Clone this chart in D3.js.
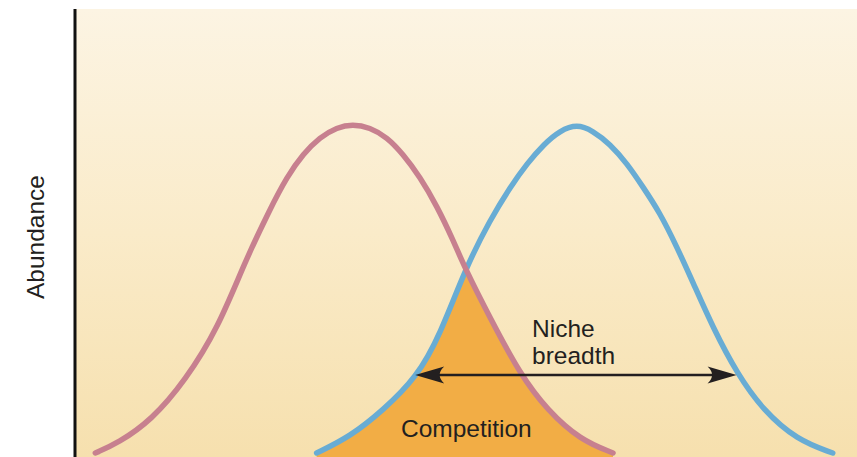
<!DOCTYPE html>
<html>
<head>
<meta charset="utf-8">
<script src="https://cdn.jsdelivr.net/npm/d3@7"></script>
<style>
  html, body { margin: 0; padding: 0; background: #ffffff; }
  svg { display: block; }
  text { font-family: "Liberation Sans", Arial, Helvetica, sans-serif; fill: #231f20; }
</style>
</head>
<body>
<svg id="chart" width="857" height="457"></svg>
<script>
// Resource gradient position (0-100) and relative abundance (peak = 1)
const speciesAX = [2.6, 5.5, 9.8, 14.1, 18.3, 21.7, 24.9, 27.1, 29.2, 31.3, 33.5, 35.5, 37.7, 39.9, 41.9, 44.1, 46.3, 48.3, 49.9, 53.1, 56.9, 60.4, 64.6, 68.8];
const speciesAY = [0.00, 0.03, 0.10, 0.22, 0.38, 0.58, 0.74, 0.84, 0.91, 0.96, 0.99, 1.00, 0.99, 0.96, 0.91, 0.84, 0.75, 0.65, 0.56, 0.41, 0.24, 0.13, 0.04, 0.00];

const speciesBX = [30.9, 35.2, 39.4, 43.7, 46.7, 49.9, 53.1, 55.7, 57.8, 60.0, 62.0, 64.2, 66.2, 68.4, 70.6, 72.6, 74.8, 76.9, 79.0, 81.6, 84.7, 88.0, 92.3, 96.9];
const speciesBY = [0.00, 0.05, 0.13, 0.23, 0.36, 0.56, 0.71, 0.81, 0.88, 0.94, 0.98, 1.00, 0.98, 0.94, 0.88, 0.81, 0.73, 0.63, 0.52, 0.38, 0.24, 0.13, 0.04, 0.00];

// Niche breadth annotation (gradient positions and abundance level)
const nicheBreadthX = [43.5, 84.6];
const nicheBreadthLevel = 0.237;

const labels = { yAxis: "Abundance", niche: ["Niche", "breadth"], competition: "Competition" };

const W = 857, H = 457;
const svg = d3.select("#chart");

const x = d3.scaleLinear().domain([0, 100]).range([75, 857]);
const y = d3.scaleLinear().domain([0, 1.35]).range([453, 9]);

const defs = svg.append("defs");
const grad = defs.append("linearGradient").attr("id", "bg").attr("x1", 0).attr("y1", 0).attr("x2", 0).attr("y2", 1);
grad.append("stop").attr("offset", "0%").attr("stop-color", "#fcf4e3");
grad.append("stop").attr("offset", "50%").attr("stop-color", "#faebc9");
grad.append("stop").attr("offset", "100%").attr("stop-color", "#f6e0ae");

// background panel
svg.append("rect")
  .attr("x", x(0)).attr("y", y(1.35))
  .attr("width", x(100) - x(0)).attr("height", H - y(1.35))
  .attr("fill", "url(#bg)");

const ptsA = speciesAX.map((v, i) => [v, speciesAY[i]]);
const ptsB = speciesBX.map((v, i) => [v, speciesBY[i]]);

const curve = d3.curveBasis;
const line = d3.line().x(d => x(d[0])).y(d => y(d[1])).curve(curve);
const area = d3.area().x(d => x(d[0])).y0(H).y1(d => y(d[1])).curve(curve);

// competition overlap: area under A clipped by area under B
defs.append("clipPath").attr("id", "clipB")
  .append("path").attr("d", area(ptsB));
svg.append("path")
  .attr("d", area(ptsA))
  .attr("clip-path", "url(#clipB)")
  .attr("fill", "#f2ad45");

// curves
svg.append("path").attr("d", line(ptsB))
  .attr("fill", "none").attr("stroke", "#68acd4").attr("stroke-width", 5.5)
  .attr("stroke-linecap", "round");
svg.append("path").attr("d", line(ptsA))
  .attr("fill", "none").attr("stroke", "#c7808f").attr("stroke-width", 5.5)
  .attr("stroke-linecap", "round");

// y axis line
svg.append("line")
  .attr("x1", x(0)).attr("x2", x(0))
  .attr("y1", y(1.35)).attr("y2", H)
  .attr("stroke", "#111").attr("stroke-width", 3);

// y axis label
svg.append("text")
  .attr("transform", `translate(44, 237) rotate(-90)`)
  .attr("text-anchor", "middle")
  .attr("font-size", 24.5)
  .text(labels.yAxis);

// niche breadth arrow
const ay = y(nicheBreadthLevel);
const ax1 = x(nicheBreadthX[0]), ax2 = x(nicheBreadthX[1]);
svg.append("line")
  .attr("x1", ax1 + 10).attr("x2", ax2 - 10)
  .attr("y1", ay).attr("y2", ay)
  .attr("stroke", "#231f20").attr("stroke-width", 2.5);
const head = "M0,0 L-29,-8.5 Q-20,0 -29,8.5 Z";
svg.append("path").attr("d", head)
  .attr("transform", `translate(${ax2},${ay})`).attr("fill", "#231f20");
svg.append("path").attr("d", head)
  .attr("transform", `translate(${ax1},${ay}) rotate(180)`).attr("fill", "#231f20");

// labels
const nt = svg.append("text").attr("font-size", 24.5);
nt.append("tspan").attr("x", 532).attr("y", 337).text(labels.niche[0]);
nt.append("tspan").attr("x", 532).attr("y", 364).text(labels.niche[1]);

svg.append("text")
  .attr("x", 401).attr("y", 437)
  .attr("font-size", 24.5)
  .text(labels.competition);
</script>
</body>
</html>
